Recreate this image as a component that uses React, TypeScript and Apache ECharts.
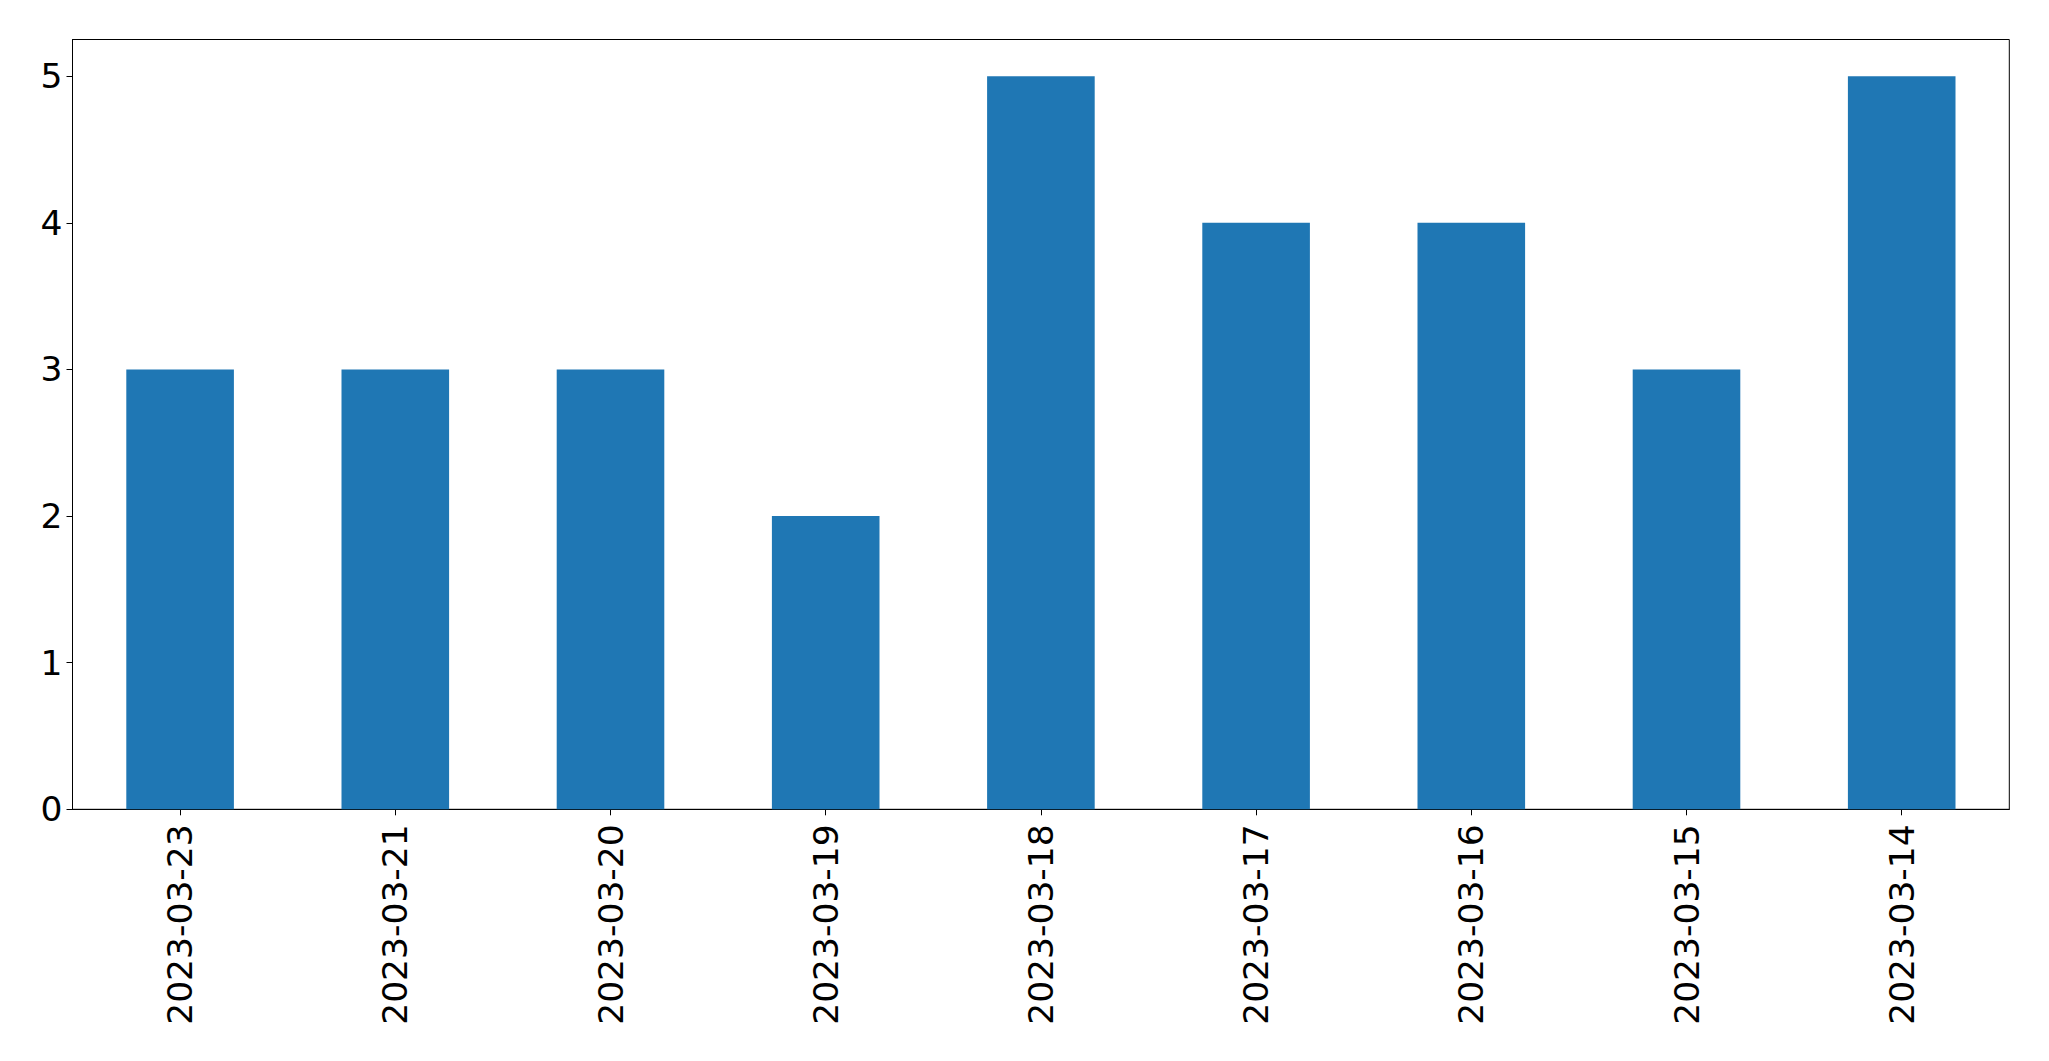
import React, { useEffect, useRef } from "react";
import * as echarts from "echarts";

const categories = [
  "2023-03-23",
  "2023-03-21",
  "2023-03-20",
  "2023-03-19",
  "2023-03-18",
  "2023-03-17",
  "2023-03-16",
  "2023-03-15",
  "2023-03-14",
];
const counts = [3, 3, 3, 2, 5, 4, 4, 3, 5];
const yTicks = [0, 1, 2, 3, 4, 5];

export default function App() {
  const ref = useRef<HTMLDivElement>(null);
  useEffect(() => {
    if (!ref.current) return;
    const chart = echarts.init(ref.current, undefined, { renderer: "svg" });
    const font = "DejaVu Sans";
    chart.setOption({
      animation: false,
      backgroundColor: "#ffffff",
      grid: {
        left: 72.5,
        right: 39.7,
        top: 39.5,
        bottom: 251.7,
        show: true,
        borderColor: "#000000",
        borderWidth: 1,
        backgroundColor: "transparent",
      },
      xAxis: {
        type: "category",
        data: categories,
        axisLine: { show: true, lineStyle: { color: "#000000", width: 1 } },
        axisTick: {
          show: true,
          alignWithLabel: true,
          length: 6,
          lineStyle: { color: "#000000", width: 1 },
        },
        axisLabel: {
          rotate: 90,
          margin: 15,
          color: "#000000",
          fontSize: 34.5,
          fontFamily: font,
          interval: 0,
        },
        splitLine: { show: false },
      },
      yAxis: {
        type: "value",
        min: 0,
        max: 5.25,
        interval: 1,
        axisLine: { show: true, lineStyle: { color: "#000000", width: 1 } },
        axisTick: {
          show: true,
          length: 6,
          customValues: yTicks,
          lineStyle: { color: "#000000", width: 1 },
        },
        axisLabel: {
          margin: 10,
          color: "#000000",
          fontSize: 34.5,
          fontFamily: font,
          customValues: yTicks,
        },
        splitLine: { show: false },
      },
      series: [
        {
          type: "bar",
          data: counts,
          barWidth: "50%",
          itemStyle: { color: "#1f77b4" },
        },
      ],
    });
    return () => chart.dispose();
  }, []);
  return (
    <div
      ref={ref}
      style={{ position: "fixed", left: 0, top: 0, width: 2049, height: 1061, background: "#fff" }}
    />
  );
}
